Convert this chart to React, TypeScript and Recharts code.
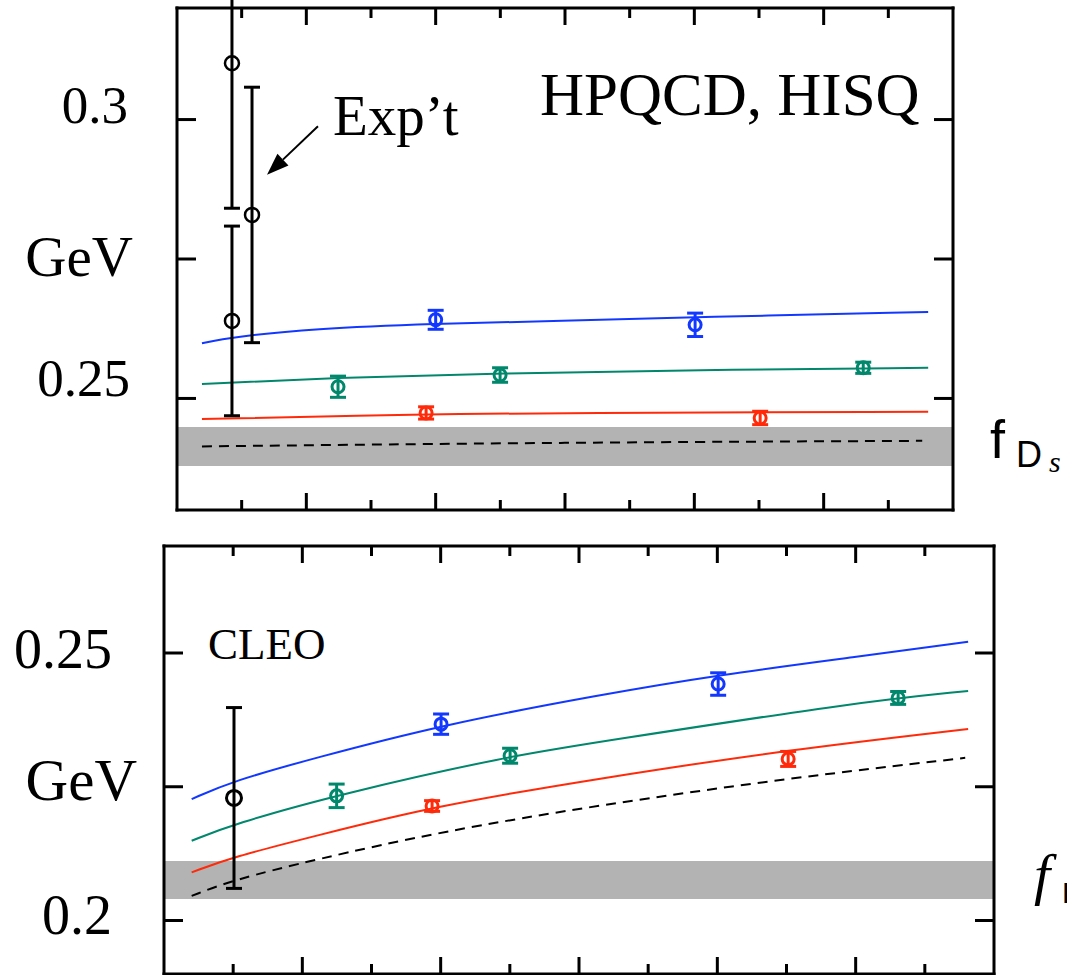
import React from "react";
import {
  ComposedChart,
  Line,
  Scatter,
  ErrorBar,
  XAxis,
  YAxis,
  ReferenceArea,
  ReferenceLine,
} from "recharts";

type Pt = { x: number; y: number };
type EPt = { x: number; y: number; err: number };

const BLUE = "#1238ff";
const GREEN = "#00876c";
const RED = "#ff2a0a";
const SERIF = '"Liberation Serif", "DejaVu Serif", serif';
const SANS = '"Liberation Sans", "DejaVu Sans", sans-serif';

const X_DOMAIN: [number, number] = [0, 0.6];
const X_TICKS = [0.05, 0.1, 0.15, 0.2, 0.25, 0.3, 0.35, 0.4, 0.45, 0.5, 0.55];

// ---- upper panel: f_Ds ----
const fdsTicks = [0.25, 0.275, 0.3];
const fdsTickLabels = ["0.25", "GeV", "0.3"];
const fdsBand: [number, number] = [0.2379, 0.2449];

const fdsBlueFit: Pt[] = [
  { x: 0.0193, y: 0.2599 },
  { x: 0.0425, y: 0.261 },
  { x: 0.1052, y: 0.2625 },
  { x: 0.198, y: 0.2634 },
  { x: 0.2962, y: 0.2639 },
  { x: 0.4045, y: 0.2646 },
  { x: 0.5808, y: 0.2655 },
];
const fdsGreenFit: Pt[] = [
  { x: 0.0193, y: 0.2526 },
  { x: 0.1206, y: 0.2537 },
  { x: 0.2498, y: 0.2545 },
  { x: 0.4, y: 0.2551 },
  { x: 0.5808, y: 0.2555 },
];
const fdsRedFit: Pt[] = [
  { x: 0.0193, y: 0.2463 },
  { x: 0.1933, y: 0.2472 },
  { x: 0.2962, y: 0.2474 },
  { x: 0.5808, y: 0.2476 },
];
const fdsChiral: Pt[] = [
  { x: 0.0193, y: 0.2414 },
  { x: 0.2962, y: 0.2421 },
  { x: 0.5762, y: 0.2424 },
];

const fdsBluePts: EPt[] = [
  { x: 0.2, y: 0.2641, err: 0.0017 },
  { x: 0.4006, y: 0.2632, err: 0.0021 },
];
const fdsGreenPts: EPt[] = [
  { x: 0.1245, y: 0.2521, err: 0.0019 },
  { x: 0.2498, y: 0.2542, err: 0.0013 },
  { x: 0.5306, y: 0.2555, err: 0.001 },
];
const fdsRedPts: EPt[] = [
  { x: 0.1926, y: 0.2474, err: 0.0011 },
  { x: 0.4509, y: 0.2465, err: 0.0012 },
];
const fdsExpt: EPt[] = [
  { x: 0.0425, y: 0.3101, err: 0.026 },
  { x: 0.0425, y: 0.2639, err: 0.017 },
  { x: 0.058, y: 0.2829, err: 0.0229 },
];
// arrow from the "Exp't" label to the second measurement
const exptArrow: Pt[] = [
  { x: 0.109, y: 0.2988 },
  { x: 0.0696, y: 0.2901 },
];

// ---- lower panel: f_B ----
const fbTicks = [0.2, 0.225, 0.25];
const fbTickLabels = ["0.2", "GeV", "0.25"];
const fbBand: [number, number] = [0.204, 0.2111];

const fbBlueFit: Pt[] = [
  { x: 0.02, y: 0.2227 },
  { x: 0.0501, y: 0.2261 },
  { x: 0.108, y: 0.2303 },
  { x: 0.1996, y: 0.2365 },
  { x: 0.3153, y: 0.2422 },
  { x: 0.4006, y: 0.2459 },
  { x: 0.5011, y: 0.2493 },
  { x: 0.5813, y: 0.2521 },
];
const fbGreenFit: Pt[] = [
  { x: 0.02, y: 0.2149 },
  { x: 0.0501, y: 0.218 },
  { x: 0.1248, y: 0.2235 },
  { x: 0.2502, y: 0.2308 },
  { x: 0.3153, y: 0.2334 },
  { x: 0.5011, y: 0.2408 },
  { x: 0.5813, y: 0.2429 },
];
const fbRedFit: Pt[] = [
  { x: 0.02, y: 0.209 },
  { x: 0.0501, y: 0.2119 },
  { x: 0.108, y: 0.2157 },
  { x: 0.1938, y: 0.2213 },
  { x: 0.3153, y: 0.2266 },
  { x: 0.4512, y: 0.2319 },
  { x: 0.5813, y: 0.2358 },
];
const fbChiral: Pt[] = [
  { x: 0.02, y: 0.2046 },
  { x: 0.0501, y: 0.2076 },
  { x: 0.108, y: 0.2113 },
  { x: 0.1996, y: 0.2166 },
  { x: 0.3153, y: 0.2216 },
  { x: 0.4512, y: 0.2266 },
  { x: 0.5792, y: 0.2304 },
];

const fbBluePts: EPt[] = [
  { x: 0.2003, y: 0.2367, err: 0.0019 },
  { x: 0.4006, y: 0.2442, err: 0.0021 },
];
const fbGreenPts: EPt[] = [
  { x: 0.1248, y: 0.2233, err: 0.0022 },
  { x: 0.2502, y: 0.2308, err: 0.0014 },
  { x: 0.5307, y: 0.2416, err: 0.0012 },
];
const fbRedPts: EPt[] = [
  { x: 0.1938, y: 0.2214, err: 0.001 },
  { x: 0.4512, y: 0.2302, err: 0.0014 },
];
const fbCleo: EPt[] = [{ x: 0.0506, y: 0.2229, err: 0.0169 }];

const isMajor = (v: number) => Math.abs(v * 10 - Math.round(v * 10)) < 1e-6;

const ring = (r: number, color: string, sw: number) => (p: any) =>
  <circle cx={p.cx} cy={p.cy} r={r} fill="none" stroke={color} strokeWidth={sw} />;

const ArrowShape = (p: any) => {
  const { x1, y1, x2, y2 } = p;
  const a = Math.atan2(y2 - y1, x2 - x1);
  const L = 22;
  const W = 8;
  const bx = x2 - L * Math.cos(a);
  const by = y2 - L * Math.sin(a);
  const px = -Math.sin(a) * W;
  const py = Math.cos(a) * W;
  return (
    <g>
      <line x1={x1} y1={y1} x2={bx} y2={by} stroke="#000" strokeWidth={2} />
      <polygon points={`${x2},${y2} ${bx + px},${by + py} ${bx - px},${by - py}`} fill="#000" />
    </g>
  );
};

interface Fit {
  data: Pt[];
  color: string;
  dashed?: boolean;
}
interface PtSet {
  data: EPt[];
  color: string;
  r: number;
  sw: number;
}
interface PanelProps {
  top: number;
  height: number;
  margin: { top: number; right: number; bottom: number; left: number };
  yDomain: [number, number];
  yTicks: number[];
  yLabels: string[];
  labelFont: number[];
  labelDx: number[];
  labelDy: number[];
  band: [number, number];
  fits: Fit[];
  pts: PtSet[];
  arrow?: Pt[];
}

const AXIS_LINE = { stroke: "#000", strokeWidth: 3, strokeLinecap: "square" as const };

function Panel(props: PanelProps) {
  const { yTicks, yLabels, labelFont, labelDx, labelDy } = props;

  const downTick = (p: any) => (
    <line x1={p.x} x2={p.x} y1={p.y} y2={p.y + (isMajor(p.payload.value) ? 17 : 10)} stroke="#000" strokeWidth={3} />
  );
  const upTick = (p: any) => (
    <line x1={p.x} x2={p.x} y1={p.y} y2={p.y - (isMajor(p.payload.value) ? 17 : 10)} stroke="#000" strokeWidth={3} />
  );
  const rightTick = (p: any) => (
    <line x1={p.x} x2={p.x - 19} y1={p.y} y2={p.y} stroke="#000" strokeWidth={3} />
  );
  const leftTick = (p: any) => {
    const i = yTicks.findIndex((t) => Math.abs(t - p.payload.value) < 1e-9);
    return (
      <g>
        <line x1={p.x} x2={p.x + 19} y1={p.y} y2={p.y} stroke="#000" strokeWidth={3} />
        {i >= 0 && (
          <text
            x={p.x + labelDx[i]}
            y={p.y + labelDy[i]}
            textAnchor="end"
            fontFamily={SERIF}
            fontSize={labelFont[i]}
            fill="#000"
          >
            {yLabels[i]}
          </text>
        )}
      </g>
    );
  };

  return (
    <div style={{ position: "absolute", left: 0, top: props.top }}>
      <ComposedChart width={1067} height={props.height} margin={props.margin}>
        <XAxis
          xAxisId="b"
          type="number"
          dataKey="x"
          domain={X_DOMAIN}
          allowDataOverflow
          ticks={X_TICKS}
          interval={0}
          height={1}
          tickSize={0}
          tickMargin={0}
          tickLine={false}
          axisLine={AXIS_LINE}
          tick={upTick}
        />
        <XAxis
          xAxisId="t"
          orientation="top"
          type="number"
          dataKey="x"
          domain={X_DOMAIN}
          allowDataOverflow
          ticks={X_TICKS}
          interval={0}
          height={1}
          tickSize={0}
          tickMargin={0}
          tickLine={false}
          axisLine={AXIS_LINE}
          tick={downTick}
        />
        <YAxis
          yAxisId="l"
          type="number"
          dataKey="y"
          domain={props.yDomain}
          allowDataOverflow
          ticks={yTicks}
          interval={0}
          width={1}
          tickSize={0}
          tickMargin={0}
          tickLine={false}
          axisLine={AXIS_LINE}
          tick={leftTick}
        />
        <YAxis
          yAxisId="r"
          orientation="right"
          type="number"
          dataKey="y"
          domain={props.yDomain}
          allowDataOverflow
          ticks={yTicks}
          interval={0}
          width={1}
          tickSize={0}
          tickMargin={0}
          tickLine={false}
          axisLine={AXIS_LINE}
          tick={rightTick}
        />
        <ReferenceArea
          xAxisId="b"
          yAxisId="l"
          x1={X_DOMAIN[0]}
          x2={X_DOMAIN[1]}
          y1={props.band[0]}
          y2={props.band[1]}
          fill="#b3b3b3"
          fillOpacity={1}
          stroke="none"
        />
        {props.fits.map((f, i) => (
          <Line
            key={"fit" + i}
            xAxisId="b"
            yAxisId="l"
            data={f.data}
            dataKey="y"
            type="basis"
            stroke={f.color}
            strokeWidth={2}
            strokeDasharray={f.dashed ? "10 7" : undefined}
            dot={false}
            activeDot={false}
            isAnimationActive={false}
          />
        ))}
        {props.pts.map((s, i) => (
          <Scatter
            key={"pts" + i}
            xAxisId="b"
            yAxisId="l"
            data={s.data}
            dataKey="y"
            shape={ring(s.r, s.color, s.sw)}
            isAnimationActive={false}
          >
            <ErrorBar dataKey="err" direction="y" width={8} strokeWidth={3} stroke={s.color} />
          </Scatter>
        ))}
        {props.arrow && (
          <ReferenceLine
            xAxisId="b"
            yAxisId="l"
            segment={props.arrow}
            stroke="#000"
            shape={ArrowShape}
          />
        )}
      </ComposedChart>
    </div>
  );
}

export default function App() {
  return (
    <div
      style={{
        position: "absolute",
        left: 0,
        top: 0,
        width: 1067,
        height: 975,
        overflow: "hidden",
        background: "#fff",
      }}
    >
      <Panel
        top={0}
        height={520}
        margin={{ top: 7, right: 113, bottom: 9, left: 176 }}
        yDomain={[0.23, 0.32]}
        yTicks={fdsTicks}
        yLabels={fdsTickLabels}
        labelFont={[53, 57, 53]}
        labelDx={[-47, -44, -49]}
        labelDy={[-2, 17, 3]}
        band={fdsBand}
        fits={[
          { data: fdsChiral, color: "#000", dashed: true },
          { data: fdsRedFit, color: RED },
          { data: fdsGreenFit, color: GREEN },
          { data: fdsBlueFit, color: BLUE },
        ]}
        pts={[
          { data: fdsRedPts, color: RED, r: 6, sw: 3 },
          { data: fdsGreenPts, color: GREEN, r: 6, sw: 3 },
          { data: fdsBluePts, color: BLUE, r: 6, sw: 3 },
          { data: fdsExpt, color: "#000", r: 7, sw: 2.5 },
        ]}
        arrow={exptArrow}
      />
      <Panel
        top={530}
        height={445}
        margin={{ top: 15, right: 72, bottom: 0, left: 163 }}
        yDomain={[0.19, 0.27]}
        yTicks={fbTicks}
        yLabels={fbTickLabels}
        labelFont={[56, 59, 56]}
        labelDx={[-52, -27, -52]}
        labelDy={[13, 13, 15]}
        band={fbBand}
        fits={[
          { data: fbChiral, color: "#000", dashed: true },
          { data: fbRedFit, color: RED },
          { data: fbGreenFit, color: GREEN },
          { data: fbBlueFit, color: BLUE },
        ]}
        pts={[
          { data: fbRedPts, color: RED, r: 6, sw: 3 },
          { data: fbGreenPts, color: GREEN, r: 6, sw: 3 },
          { data: fbBluePts, color: BLUE, r: 6, sw: 3 },
          { data: fbCleo, color: "#000", r: 7.5, sw: 3 },
        ]}
      />
      <svg
        width={1067}
        height={975}
        style={{ position: "absolute", left: 0, top: 0, pointerEvents: "none" }}
      >
        <text x={540} y={115} fontFamily={SERIF} fontSize={61} fill="#000">
          HPQCD, HISQ
        </text>
        <text x={333} y={135} fontFamily={SERIF} fontSize={57} fill="#000">
          Exp’t
        </text>
        <text x={208} y={659} fontFamily={SERIF} fontSize={45} fill="#000">
          CLEO
        </text>
        <text x={990} y={458} fontFamily={SANS} fontSize={54} fill="#000">
          f
        </text>
        <text x={1016} y={467} fontFamily={SANS} fontSize={36} fill="#000">
          D
        </text>
        <text x={1049} y={472} fontFamily={SERIF} fontStyle="italic" fontSize={30} fill="#000">
          s
        </text>
        <text x={1034} y={894} fontFamily={SERIF} fontStyle="italic" fontSize={58} fill="#000">
          f
        </text>
        <text x={1062} y={903} fontFamily={SANS} fontSize={30} fill="#000">
          B
        </text>
      </svg>
    </div>
  );
}
